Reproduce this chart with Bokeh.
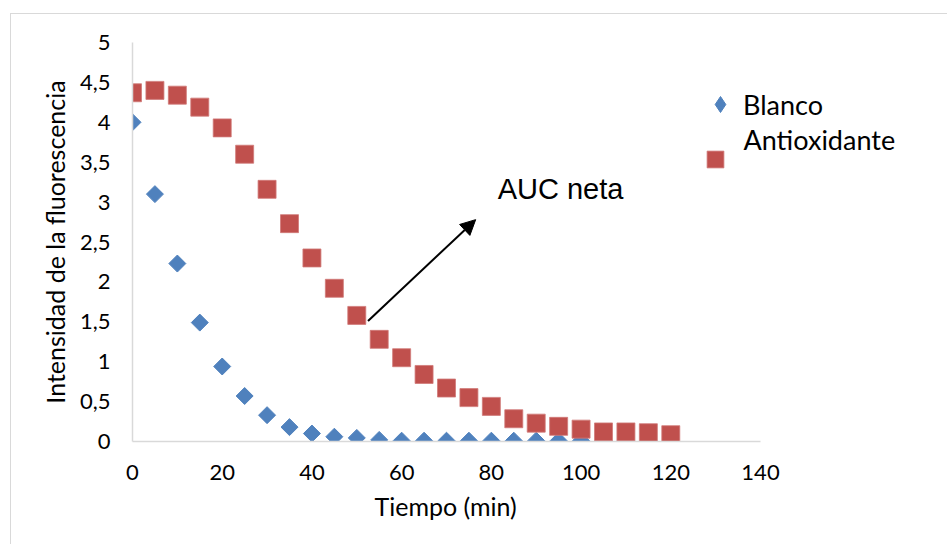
import math
from bokeh.plotting import figure
from bokeh.models import (Range1d, FixedTicker, Legend, LegendItem, Label,
                          Arrow, NormalHead, Title)
from bokeh.embed import file_html
from bokeh.resources import INLINE

# ---- data ----
tiempo_blanco = [0, 5, 10, 15, 20, 25, 30, 35, 40, 45, 50, 55,
                 60, 65, 70, 75, 80, 85, 90, 95, 100, 105, 110, 115]
blanco = [4.00, 3.10, 2.23, 1.49, 0.94, 0.57, 0.33, 0.18, 0.10, 0.06, 0.045, 0.02,
          0.01, 0.01, 0.01, 0.01, 0.01, 0.01, 0.01, 0.01, 0.01, 0.01, 0.01, 0.01]

tiempo_antioxidante = [0, 5, 10, 15, 20, 25, 30, 35, 40, 45, 50, 55,
                       60, 65, 70, 75, 80, 85, 90, 95, 100, 105, 110, 115, 120]
antioxidante = [4.37, 4.40, 4.34, 4.19, 3.93, 3.60, 3.16, 2.73, 2.30, 1.92, 1.58, 1.28,
                1.05, 0.84, 0.67, 0.55, 0.44, 0.285, 0.23, 0.19, 0.155, 0.12, 0.12, 0.11, 0.085]

x_ticks = [0, 20, 40, 60, 80, 100, 120, 140]
y_ticks = [0, 0.5, 1, 1.5, 2, 2.5, 3, 3.5, 4, 4.5, 5]
y_tick_labels = ["0", "0,5", "1", "1,5", "2", "2,5", "3", "3,5", "4", "4,5", "5"]

series_names = ["Blanco", "Antioxidante"]
x_title = "Tiempo (min)"
y_title = "Intensidad de la fluorescencia"
annotation_text = "AUC neta"
arrow_start = (52.5, 1.51)
arrow_end = (76.5, 2.78)
annotation_pos = (81.4, 3.16)

BLUE = "#4F81BD"
RED = "#C0504D"
GRID = "#d9d9d9"
FONT = "Lato"

# plot area: axis 0..140 spans 628 px; frame continues to the right edge (816 px)
x_axis_max = x_ticks[-1]
frame_px, axis_px = 816, 628
x_view_max = x_axis_max * frame_px / axis_px

p = figure(width=937, height=531, output_backend="svg", toolbar_location=None,
           x_range=Range1d(0, x_view_max), y_range=Range1d(y_ticks[0], y_ticks[-1]),
           min_border_left=121, min_border_right=0,
           min_border_top=28, min_border_bottom=104)
p.styles = {"margin-left": "10px", "margin-top": "13px",
            "border-left": "1px solid #d9d9d9", "border-top": "1px solid #d9d9d9"}

p.xgrid.visible = False
p.ygrid.visible = False
p.outline_line_color = None
p.background_fill_color = "white"
p.border_fill_color = "white"

p.xaxis.ticker = FixedTicker(ticks=x_ticks)
p.xaxis.bounds = (x_ticks[0], x_ticks[-1])
p.yaxis.ticker = FixedTicker(ticks=y_ticks)
p.yaxis.major_label_overrides = {t: s for t, s in zip(y_ticks, y_tick_labels)}

for ax in (p.xaxis, p.yaxis):
    ax.axis_line_color = GRID
    ax.axis_line_width = 1.5
    ax.major_tick_line_color = None
    ax.minor_tick_line_color = None
    ax.major_tick_out = 0
    ax.major_tick_in = 0
    ax.major_label_text_font = FONT
    ax.major_label_text_font_size = "22px"
    ax.major_label_text_color = "black"
    ax.axis_label_text_font = FONT
    ax.axis_label_text_font_size = "25px"
    ax.axis_label_text_font_style = "normal"
    ax.axis_label_text_color = "black"

p.xaxis.major_label_standoff = 23
p.yaxis.major_label_standoff = 22
p.yaxis.axis_label = y_title
p.yaxis.axis_label_standoff = 7

# x-axis title centred under the 0..140 axis (not under the whole plot area)
p.add_layout(Title(text=x_title, align="left", offset=242, standoff=12,
                   text_font=FONT, text_font_size="25px", text_font_style="normal",
                   text_color="black"), "below")

r_b = p.scatter(tiempo_blanco, blanco, marker="square", angle=math.pi / 4,
                size=12, fill_color=BLUE, line_color=BLUE)
r_a = p.scatter(tiempo_antioxidante, antioxidante, marker="square",
                size=18, fill_color=RED, line_color="#d07a78", line_width=0.8)
# legend key for the blue series (legend keys are drawn unrotated)
r_b_key = p.scatter(tiempo_blanco, blanco, marker="diamond", size=12,
                    fill_color=BLUE, line_color=BLUE, visible=False)

common = dict(border_line_color=None, background_fill_alpha=0, margin=0, padding=0,
              label_text_font=FONT, label_text_font_size="27px", label_text_color="black")
leg1 = Legend(items=[LegendItem(label=series_names[0], renderers=[r_b_key])],
              location=(568, 317), glyph_width=40, glyph_height=40, label_height=40,
              label_standoff=3, **common)
leg2 = Legend(items=[LegendItem(label="", renderers=[r_a])],
              location=(562, 261), glyph_width=42, glyph_height=42, label_height=42,
              label_standoff=0, **common)
p.add_layout(leg1)
p.add_layout(leg2)
p.add_layout(Label(x=743 - 132, y=440 - 138, x_units="screen", y_units="screen",
                   text=series_names[1], text_font=FONT, text_font_size="27px",
                   text_baseline="middle", text_color="black"))

p.add_layout(Arrow(end=NormalHead(size=15, fill_color="black", line_color="black"),
                   x_start=arrow_start[0], y_start=arrow_start[1],
                   x_end=arrow_end[0], y_end=arrow_end[1],
                   line_width=2, line_color="black"))
p.add_layout(Label(x=annotation_pos[0], y=annotation_pos[1], text=annotation_text,
                   text_font="Liberation Sans", text_font_size="29px",
                   text_baseline="alphabetic", text_color="black"))

open("out.html", "w").write(file_html(p, INLINE))
